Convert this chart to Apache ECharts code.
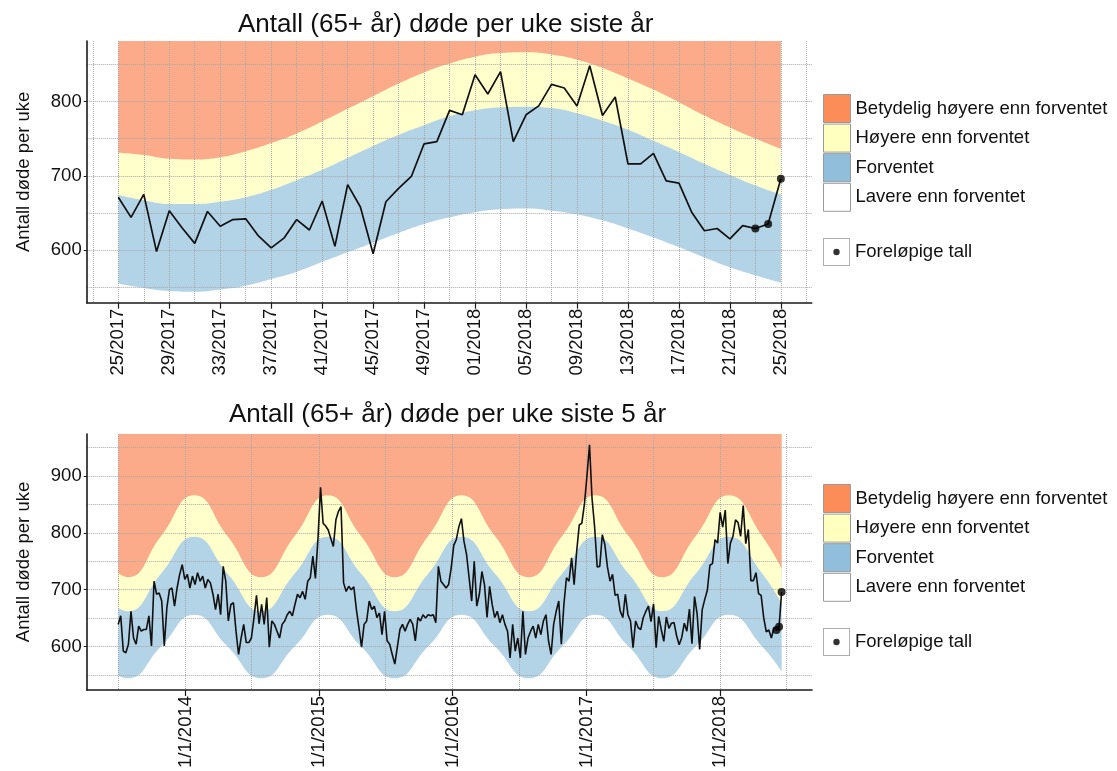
<!DOCTYPE html>
<html>
<head>
<meta charset="utf-8">
<script src="https://cdn.jsdelivr.net/npm/echarts@6/dist/echarts.min.js"></script>
<style>html,body{margin:0;padding:0;background:#fff;}#chart{width:1117px;height:771px;}</style>
</head>
<body>
<div id="chart"></div>
<script>
// ---------- DATA ----------
// Top chart: weekly deaths 25/2017 .. 25/2018 (53 weeks)
const topWeekLabels = ['25/2017','29/2017','33/2017','37/2017','41/2017','45/2017','49/2017','01/2018','05/2018','09/2018','13/2018','17/2018','21/2018','25/2018'];
const lastYearDeaths = [671,644,675,598,653,630,609,652,632,641,642,619,603,616,641,627,666,605,688,658,595,665,683,699,743,746,788,782,836,810,840,746,782,794,823,818,794,848,781,806,716,716,730,693,690,651,626,629,615,633,629,635,696];
// Band boundaries, top chart, every 2nd week
const topUpper  = [731,728,723,722,725,733,744,757,773,790,807,824,839,851,860,865,866,863,856,845,831,816,799,781,765,750,736];
const topMiddle = [674,667,662,662,665,671,681,694,708,724,740,755,768,780,788,792,793,791,784,774,762,747,732,716,701,687,675];
const topLower  = [555,549,545,544,547,552,561,571,584,597,610,623,635,644,651,655,656,653,648,640,629,617,604,590,577,566,556];

// Bottom chart: weekly deaths from week of 1 July 2013 up to the week before 25/2017
const earlierDeaths = [
 639,654,592,589,604,662,615,604,636,627,
 630,630,654,601,715,692,694,680,601,668,
 700,703,671,703,727,744,718,727,703,724,
 709,730,715,724,703,718,712,692,665,692,
 656,741,715,645,674,677,627,586,615,639,
 607,607,615,650,690,640,674,639,686,599,
 645,639,627,615,639,645,656,662,654,674,
 692,686,697,683,715,721,759,720,790,880,
 817,812,805,790,776,823,838,846,712,697,
 706,700,705,665,633,599,639,645,680,665,
 671,651,659,621,662,610,604,586,569,600,
 630,639,627,639,648,639,610,651,645,656,
 650,656,654,656,642,741,715,709,703,709,
 738,778,788,811,825,785,762,721,680,750,
 671,692,732,709,651,706,674,651,662,642,
 656,639,627,580,639,592,615,580,662,586,
 615,627,636,615,639,621,645,656,610,586,
 639,662,680,604,674,721,715,756,709,768,
 814,817,850,900,955,860,810,740,741,797,
 779,740,715,727,690,692,662,651,692,656,
 645,598,645,633,630,651,662];
const fiveYearDeaths = earlierDeaths.concat(lastYearDeaths);
// Band boundaries, bottom chart, at turning points / mid-points of the seasonal curve
const fiveYearBandDates = ['2013-07-01','2013-07-27','2013-10-26','2014-01-25','2014-04-26','2014-07-27','2014-10-26','2015-01-25','2015-04-26','2015-07-27','2015-10-26','2016-01-25','2016-04-26','2016-07-27','2016-10-26','2017-01-25','2017-04-26','2017-07-27','2017-10-26','2018-01-25','2018-04-26','2018-06-18'];
const fiveYearUpper  = [729,722,794,866,794,722,794,866,794,722,794,866,794,722,794,866,794,722,794,866,794,737];
const fiveYearMiddle = [668,662,728,793,728,662,728,793,728,662,728,793,728,662,728,793,728,662,728,793,728,676];
const fiveYearLower  = [549,544,600,656,600,544,600,656,600,544,600,656,600,544,600,656,600,544,600,656,600,556];
const yearTickLabels = ['1/1/2014','1/1/2015','1/1/2016','1/1/2017','1/1/2018'];
const preliminaryCount = 3;

const bandNames = ['Betydelig høyere enn forventet','Høyere enn forventet','Forventet','Lavere enn forventet'];
const prelimName = 'Foreløpige tall';

// ---------- LAYOUT / STYLE ----------
const FONT = '"Liberation Sans", Arial, Helvetica, sans-serif';
const DAY = 86400000;
const WEEK = 7 * DAY;
const startTs = Date.UTC(2013, 6, 1);
const utc = (s) => { const p = s.split('-').map(Number); return Date.UTC(p[0], p[1] - 1, p[2]); };
const yearTicks = [Date.UTC(2014,0,1), Date.UTC(2015,0,1), Date.UTC(2016,0,1), Date.UTC(2017,0,1), Date.UTC(2018,0,1)];
const halfYearGrid = [];
for (let y = 2013; y <= 2018; y++) { if (y > 2013) halfYearGrid.push(Date.UTC(y,0,1)); halfYearGrid.push(Date.UTC(y,6,1)); }
const topTickWeeks = topWeekLabels.map((_, k) => 4 * k);
const topGridWeeks = []; for (let w = -2; w <= 54; w += 2) topGridWeeks.push(w);
const botMin = Date.UTC(2013,3,6), botMax = Date.UTC(2018,8,9);

const legendColors = ['#FC8D59', '#FFFFBF', '#91BFDB', '#FFFFFF'];
const bandColors = ['#FBAB8A', '#FFFFCC', '#B3D3E7'];
const AX = '#1a1a1a';
const TXT = '#111';
const FS = 18.5;

const prelimIcon = 'image://data:image/svg+xml;utf8,' + encodeURIComponent(
  "<svg xmlns='http://www.w3.org/2000/svg' width='27' height='28' viewBox='0 0 27 28'>" +
  "<rect x='0.5' y='0.5' width='26' height='27' fill='white' stroke='#9a9a9a' stroke-width='1'/>" +
  "<circle cx='13.5' cy='14' r='3.2' fill='black'/></svg>");

function bandLegend(top) {
  return {
    orient: 'vertical', left: 823, top: top, itemWidth: 27, itemHeight: 28, itemGap: 0.6,
    icon: 'rect', selectedMode: false, padding: 0,
    textStyle: { fontSize: FS, fontFamily: FONT, color: TXT },
    data: bandNames.map((n, i) => ({ name: n, itemStyle: { color: legendColors[i], borderColor: '#9a9a9a', borderWidth: 1 } }))
  };
}
function prelimLegend(top) {
  return {
    orient: 'vertical', left: 823, top: top, itemWidth: 27, itemHeight: 28, padding: 0,
    selectedMode: false, textStyle: { fontSize: FS, fontFamily: FONT, color: TXT },
    data: [{ name: prelimName, icon: prelimIcon }]
  };
}
function mainX(gridIndex, min, max, ticks, fmt) {
  return {
    gridIndex, type: 'value', min, max, z: 5,
    axisLine: { show: true, onZero: false, lineStyle: { color: AX, width: 1.6 } },
    axisTick: { show: true, customValues: ticks, length: 6, lineStyle: { color: AX, width: 1.2 } },
    axisLabel: { customValues: ticks, rotate: 90, margin: 6, fontSize: FS, fontFamily: FONT, color: TXT, formatter: fmt },
    splitLine: { show: false }
  };
}
function gridX(gridIndex, min, max, vals) {
  return {
    gridIndex, type: 'value', min, max, z: 5, position: 'bottom',
    axisLine: { show: false, onZero: false }, axisLabel: { show: false },
    axisTick: { show: false, customValues: vals },
    splitLine: { show: true, lineStyle: { color: '#a8a8a8', type: 'dotted', width: 1 } }
  };
}
function mainY(gridIndex, min, max, ticks) {
  return {
    gridIndex, type: 'value', min, max, z: 5,
    name: 'Antall døde per uke', nameLocation: 'middle', nameGap: 53,
    nameTextStyle: { fontSize: FS, fontFamily: FONT, color: TXT },
    axisLine: { show: true, onZero: false, lineStyle: { color: AX, width: 1.6 } },
    axisTick: { show: true, customValues: ticks, length: 3, lineStyle: { color: AX } },
    axisLabel: { customValues: ticks, margin: 5, fontSize: FS, fontFamily: FONT, color: TXT },
    splitLine: { show: false }
  };
}
function gridY(gridIndex, min, max, vals) {
  return {
    gridIndex, type: 'value', min, max, z: 5, position: 'left',
    axisLine: { show: false, onZero: false }, axisLabel: { show: false },
    axisTick: { show: false, customValues: vals },
    splitLine: { show: true, lineStyle: { color: '#a8a8a8', type: 'dotted', width: 1 } }
  };
}
function band(name, data, color, origin, z, xi, yi) {
  return {
    type: 'line', name, data, xAxisIndex: xi, yAxisIndex: yi, smooth: 0.5, showSymbol: false, silent: true,
    lineStyle: { width: 0 }, itemStyle: { color }, z,
    areaStyle: { color, opacity: 1, origin }
  };
}

const topX = (k) => 2 * k;
const botX = (k) => utc(fiveYearBandDates[k]);

const option = {
  animation: false,
  backgroundColor: '#ffffff',
  title: [
    { text: 'Antall (65+ år) døde per uke siste år', left: 233, top: 7,
      textStyle: { fontSize: 26, fontWeight: 'normal', fontFamily: FONT, color: TXT } },
    { text: 'Antall (65+ år) døde per uke siste 5 år', left: 224, top: 397,
      textStyle: { fontSize: 26, fontWeight: 'normal', fontFamily: FONT, color: TXT } }
  ],
  legend: [bandLegend(94), prelimLegend(238), bandLegend(484), prelimLegend(628)],
  grid: [
    { left: 86.7, top: 41, width: 725, height: 261.7 },
    { left: 86.7, top: 434, width: 725.3, height: 257 }
  ],
  xAxis: [
    mainX(0, -2.48, 54.42, topTickWeeks, (v) => topWeekLabels[Math.round(v / 4)]),
    gridX(0, -2.48, 54.42, topGridWeeks),
    mainX(1, botMin, botMax, yearTicks, (v) => {
      const i = yearTicks.findIndex(t => Math.abs(t - v) < DAY);
      return i >= 0 ? yearTickLabels[i] : '';
    }),
    gridX(1, botMin, botMax, halfYearGrid)
  ],
  yAxis: [
    mainY(0, 529.2, 881.3, [600, 700, 800]),
    gridY(0, 529.2, 881.3, [550, 600, 650, 700, 750, 800, 850]),
    mainY(1, 523.5, 974, [600, 700, 800, 900]),
    gridY(1, 523.5, 974, [550, 600, 650, 700, 750, 800, 850, 900, 950])
  ],
  series: [
    // top chart
    band(bandNames[3], topLower.map((v, k) => [topX(k), v]), '#ffffff', 'start', 1, 0, 0),
    band(bandNames[2], topLower.map((v, k) => [topX(k), v]), bandColors[2], 'end', 2, 0, 0),
    band(bandNames[1], topMiddle.map((v, k) => [topX(k), v]), bandColors[1], 'end', 3, 0, 0),
    band(bandNames[0], topUpper.map((v, k) => [topX(k), v]), bandColors[0], 'end', 4, 0, 0),
    { type: 'line', name: 'Antall døde', xAxisIndex: 0, yAxisIndex: 0, z: 6, showSymbol: false, silent: true,
      data: lastYearDeaths.map((v, i) => [i, v]), lineStyle: { color: '#111', width: 1.7 }, itemStyle: { color: '#111' } },
    { type: 'scatter', name: prelimName, xAxisIndex: 0, yAxisIndex: 0, z: 7, symbolSize: 8, itemStyle: { color: '#000' },
      data: lastYearDeaths.map((v, i) => [i, v]).slice(-preliminaryCount) },
    // bottom chart
    band(bandNames[3], fiveYearLower.map((v, k) => [botX(k), v]), '#ffffff', 'start', 1, 2, 2),
    band(bandNames[2], fiveYearLower.map((v, k) => [botX(k), v]), bandColors[2], 'end', 2, 2, 2),
    band(bandNames[1], fiveYearMiddle.map((v, k) => [botX(k), v]), bandColors[1], 'end', 3, 2, 2),
    band(bandNames[0], fiveYearUpper.map((v, k) => [botX(k), v]), bandColors[0], 'end', 4, 2, 2),
    { type: 'line', name: 'Antall døde 5 år', xAxisIndex: 2, yAxisIndex: 2, z: 6, showSymbol: false, silent: true,
      data: fiveYearDeaths.map((v, i) => [startTs + i * WEEK, v]), lineStyle: { color: '#111', width: 1.6 }, itemStyle: { color: '#111' } },
    { type: 'scatter', name: prelimName, xAxisIndex: 2, yAxisIndex: 2, z: 7, symbolSize: 8, itemStyle: { color: '#000' },
      data: fiveYearDeaths.map((v, i) => [startTs + i * WEEK, v]).slice(-preliminaryCount) }
  ]
};

const chart = echarts.init(document.getElementById('chart'), null, { renderer: 'canvas' });
chart.setOption(option);
</script>
</body>
</html>
